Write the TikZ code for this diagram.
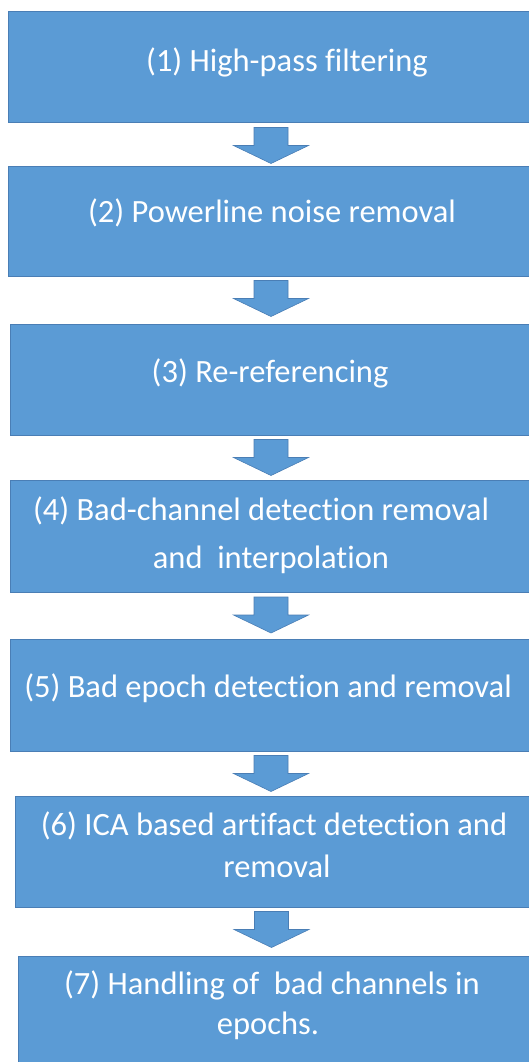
\documentclass[tikz,border=0pt]{standalone}
\usepackage{fontspec}
\setmainfont{Carlito}[Ligatures=NoCommon]
\usetikzlibrary{calc}
\definecolor{boxblue}{HTML}{5B9BD5}
\definecolor{boxedge}{HTML}{4A7EB5}
\begin{document}
\begin{tikzpicture}[x=1pt,y=-1pt,
  stage/.style={fill=boxblue, draw=boxedge, line width=1pt, inner sep=0pt, outer sep=0pt},
  steptext/.style={text=white, anchor=base, inner sep=0pt,
    font=\fontsize{32.5}{42}\selectfont},
  pics/downarrow/.style={code={
    \filldraw[fill=boxblue, draw=boxedge, line width=0.6pt]
      (-17,0) -- (17,0) -- (17,18) -- (37.5,18) -- (0,36)
      -- (-37.5,18) -- (-17,18) -- cycle;}}]
\fill[white] (0,0) rectangle (528,1062);
\useasboundingbox (0,0) rectangle (528,1062);

% processing stages
\node[stage, minimum width=522, minimum height=111] (b1) at (269,67.5) {};
\node[stage, minimum width=522, minimum height=110] (b2) at (269,221) {};
\node[stage, minimum width=520, minimum height=111] (b3) at (270,379.5) {};
\node[stage, minimum width=520, minimum height=112] (b4) at (270,536) {};
\node[stage, minimum width=520, minimum height=112] (b5) at (270,695) {};
\node[stage, minimum width=515, minimum height=111] (b6) at (272.5,851.5) {};
\node[stage, minimum width=512, minimum height=114] (b7) at (274,1013) {};

% stage labels
\node[steptext] (t1) at (287,72) {(1) High-pass filtering};
\node[steptext] (t2) at (272,222) {(2) Powerline noise removal};
\node[steptext] (t3) at (270,382) {(3) Re-referencing};
\node[steptext] (t4a) at (261,520) {(4) Bad-channel detection removal};
\node[steptext] (t4b) at (271,568) {and\ \ interpolation};
\node[steptext] (t5) at (268,697) {(5) Bad epoch detection and removal};
\node[steptext] (t6a) at (274,835) {(6) ICA based artifact detection and};
\node[steptext] (t6b) at (277,877) {removal};
\node[steptext] (t7a) at (272,994) {(7) Handling of\ \ bad channels in};
\node[steptext] (t7b) at (268,1034) {epochs.};

% block arrows between consecutive stages
\pic at ($(b1.south)+(2,4.5)$) {downarrow};
\pic at ($(b2.south)+(2,4.5)$) {downarrow};
\pic at ($(b3.south)+(1,4.5)$) {downarrow};
\pic at ($(b4.south)+(1,5)$) {downarrow};
\pic at ($(b5.south)+(1,4.5)$) {downarrow};
\pic at ($(b6.south)+(-1,4.5)$) {downarrow};
\end{tikzpicture}
\end{document}
